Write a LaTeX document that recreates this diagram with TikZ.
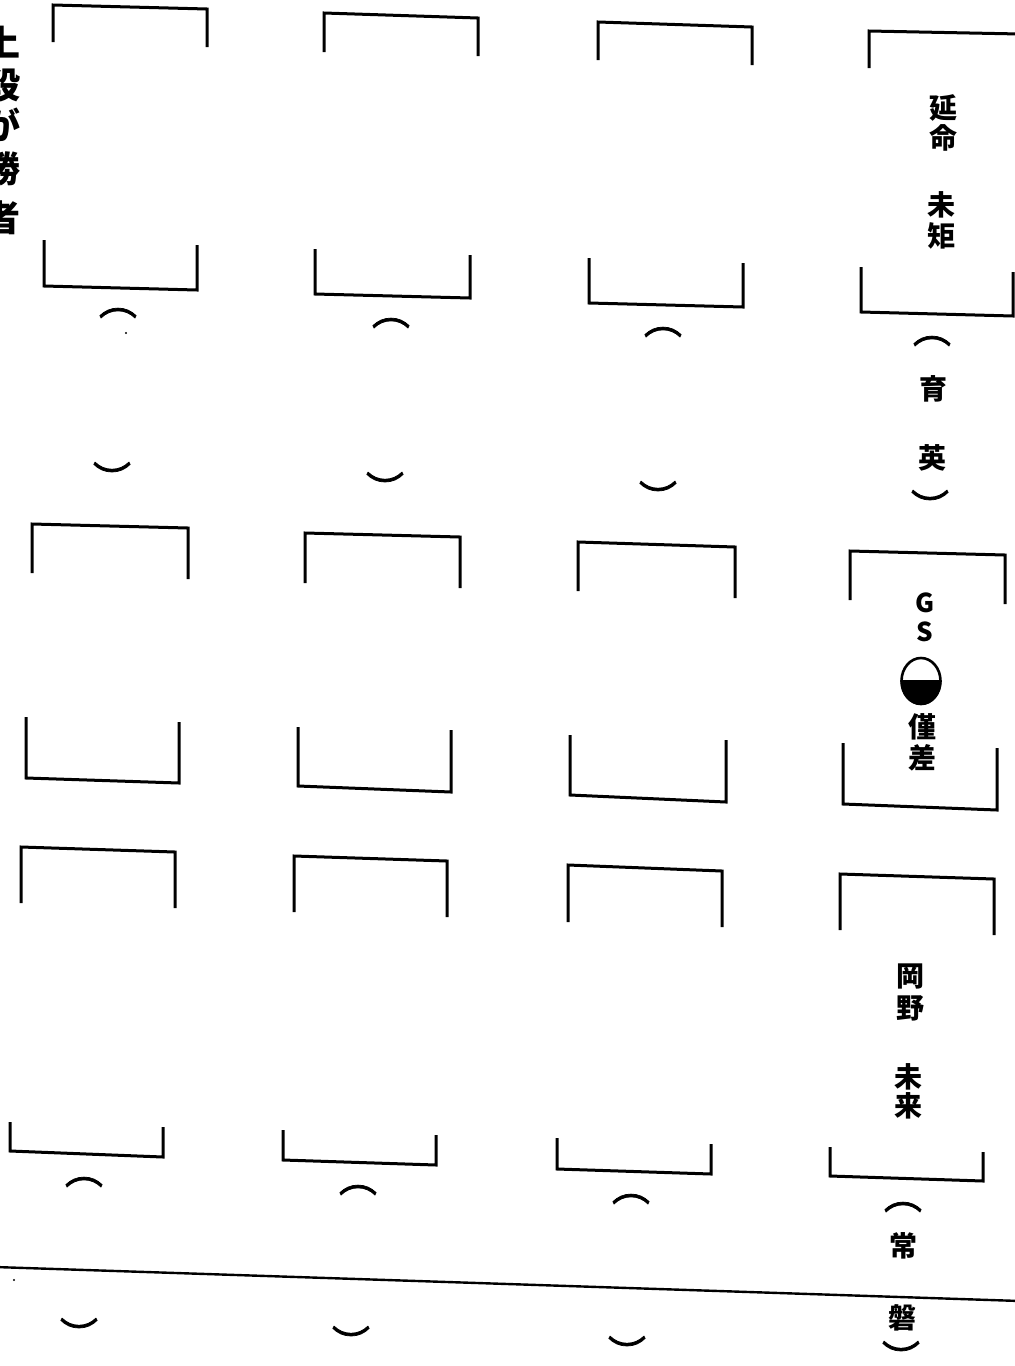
\documentclass[tikz,border=0pt]{standalone}
\usepackage{fontspec}
\newfontfamily\jp{Noto Sans CJK JP}
\newfontfamily\jpparen{Noto Sans CJK JP}[FakeBold=2]
\begin{document}
\begin{tikzpicture}[x=1pt,y=-1pt,
  brk/.style={line width=3pt,line join=miter,line cap=butt},
  rule/.style={line width=2.4pt},
  kj/.style={inner sep=0pt,font=\jp\bfseries\fontsize{28}{28}\selectfont},
  big/.style={inner sep=0pt,font=\jp\bfseries\fontsize{36}{36}\selectfont},
  paren/.style={inner sep=0pt,font=\jpparen\fontsize{38}{38}\selectfont},
  lat/.style={inner sep=0pt,font=\jp\bfseries\fontsize{26}{26}\selectfont}]
\clip (0,0) rectangle (1015,1366);
\fill[white] (0,0) rectangle (1015,1366);

% --- row 1 top brackets
\draw[brk] (53,42) -- (53,5) -- (207,9) -- (207,47);
\draw[brk] (324,52) -- (324,13) -- (478,18) -- (478,56);
\draw[brk] (598,60) -- (598,22) -- (752,27) -- (752,65);
\draw[brk] (869,68) -- (869,31) -- (1020,34);
% --- row 1 bottom brackets
\draw[brk] (44,240) -- (44,286) -- (197,290) -- (197,245);
\draw[brk] (315,249) -- (315,294) -- (470,298) -- (470,255);
\draw[brk] (589,258) -- (589,303) -- (743,307) -- (743,263);
\draw[brk] (861,267) -- (861,312) -- (1013,316) -- (1013,272);
% --- row 2 top brackets
\draw[brk] (32,573) -- (32,524) -- (188,528) -- (188,579);
\draw[brk] (305,583) -- (305,533) -- (460,537) -- (460,588);
\draw[brk] (578,591) -- (578,542) -- (735,547) -- (735,598);
\draw[brk] (850,600) -- (850,551) -- (1005,555) -- (1005,604);
% --- row 2 bottom brackets
\draw[brk] (26,717) -- (26,778) -- (179,783) -- (179,722);
\draw[brk] (298,727) -- (298,786) -- (451,792) -- (451,730);
\draw[brk] (570,735) -- (570,795) -- (726,802) -- (726,740);
\draw[brk] (843,743) -- (843,804) -- (997,810) -- (997,748);
% --- row 3 top brackets
\draw[brk] (21,903) -- (21,847) -- (175,852) -- (175,908);
\draw[brk] (294,912) -- (294,856) -- (447,861) -- (447,917);
\draw[brk] (568,922) -- (568,865) -- (722,871) -- (722,927);
\draw[brk] (840,930) -- (840,874) -- (994,879) -- (994,935);
% --- row 3 bottom brackets
\draw[brk] (10,1122) -- (10,1151) -- (163,1157) -- (163,1127);
\draw[brk] (283,1130) -- (283,1160) -- (436,1165) -- (436,1135);
\draw[brk] (557,1138) -- (557,1169) -- (711,1174) -- (711,1144);
\draw[brk] (830,1147) -- (830,1176) -- (983,1181) -- (983,1152);

% --- horizontal rule
\draw[rule] (-5,1267) -- (1020,1301);

% --- scan dots
\fill (126,333) circle (1.2);
\fill (14,1280) circle (1.2);

% --- left heading (cut off at the edge, as in the scan)
\node[big] (h1) at (2,42) {上};
\node[big] (h2) at (2,85) {段};
\node[big] (h3) at (2,125) {が};
\node[big] (h4) at (2,169) {勝};
\node[big] (h5) at (2,218) {者};

% --- row 1 parentheses
\node[paren] (p11o) at (118,313) {︵};
\node[paren] (p12o) at (391,323) {︵};
\node[paren] (p13o) at (663,332) {︵};
\node[paren] (p11c) at (112,478) {︶};
\node[paren] (p12c) at (385,488) {︶};
\node[paren] (p13c) at (658,497) {︶};

% --- row 1 col 4 names
\node[kj] (n1a) at (943,108) {延};
\node[kj] (n1b) at (943,138) {命};
\node[kj] (n1c) at (941,205) {未};
\node[kj] (n1d) at (941,236) {矩};
\node[paren] (p14o) at (932,341) {︵};
\node[kj] (n1e) at (933,389) {育};
\node[kj] (n1f) at (932,458) {英};
\node[paren] (p14c) at (930,506) {︶};

% --- GS result
\node[lat] (g) at (925,603) {G};
\node[lat] (s) at (925,632) {S};
\draw[line width=2.6pt] (921,681) ellipse [x radius=19.5, y radius=23];
\begin{scope}
  \clip (895,680) rectangle (950,710);
  \fill (921,681) ellipse [x radius=20.5, y radius=24];
\end{scope}
\node[kj] (m1) at (922,727) {僅};
\node[kj] (m2) at (922,758) {差};

% --- row 3 col 4 names
\node[kj] (n2a) at (910,976) {岡};
\node[kj] (n2b) at (910,1008) {野};
\node[kj] (n2c) at (908,1077) {未};
\node[kj] (n2d) at (908,1106) {来};
\node[paren] (p24o) at (903,1207) {︵};
\node[kj] (n2e) at (903,1246) {常};
\node[kj] (n2f) at (902,1318) {磐};
\node[paren] (p24c) at (901,1357) {︶};

% --- row 3 parentheses
\node[paren] (p21o) at (84,1182) {︵};
\node[paren] (p22o) at (358,1190) {︵};
\node[paren] (p23o) at (631,1199) {︵};
\node[paren] (p21c) at (79,1334) {︶};
\node[paren] (p22c) at (351,1342) {︶};
\node[paren] (p23c) at (627,1352) {︶};
\end{tikzpicture}
\end{document}
